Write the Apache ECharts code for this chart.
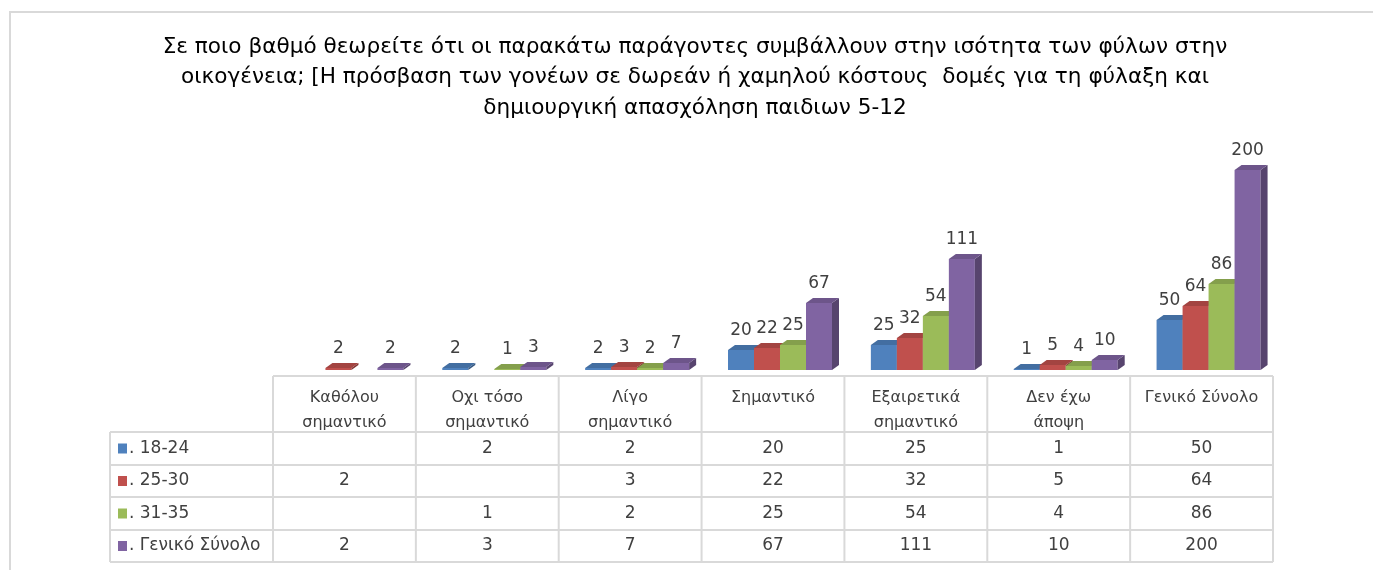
<!DOCTYPE html>
<html>
<head>
<meta charset="utf-8">
<script src="https://cdn.jsdelivr.net/npm/echarts@6/dist/echarts.min.js"></script>
<style>
html, body { margin: 0; padding: 0; background: #fff; }
#chart { width: 1373px; height: 570px; }
</style>
</head>
<body>
<div id="chart"></div>
<script>
var titleText = 'Σε ποιο βαθμό θεωρείτε ότι οι παρακάτω παράγοντες συμβάλλουν στην ισότητα των φύλων στην\n' +
    'οικογένεια; [Η πρόσβαση των γονέων σε δωρεάν ή χαμηλού κόστους  δομές για τη φύλαξη και\n' +
    'δημιουργική απασχόληση παιδιων 5-12';

var categories = ['Καθόλου\nσημαντικό', 'Οχι τόσο\nσημαντικό', 'Λίγο\nσημαντικό', 'Σημαντικό',
    'Εξαιρετικά\nσημαντικό', 'Δεν έχω\nάποψη', 'Γενικό Σύνολο'];
var seriesNames = ['. 18-24', '. 25-30', '. 31-35', '. Γενικό Σύνολο'];
var age1824 = [null, 2, 2, 20, 25, 1, 50];
var age2530 = [2, null, 3, 22, 32, 5, 64];
var age3135 = [null, 1, 2, 25, 54, 4, 86];
var total = [2, 3, 7, 67, 111, 10, 200];
var allValues = [age1824, age2530, age3135, total];

var colors = ['#4F81BD', '#C0504D', '#9BBB59', '#8064A2'];

var BAR_W = 26, SHIFT = 7, DX = 7, DY = 5;
var GRID_LEFT = 273, GRID_RIGHT = 100, GRID_TOP = 170, GRID_BOTTOM = 200;
var LINE = '#d9d9d9';
var TXT = '#404040';
var FONT = 'DejaVu Sans';

function shade(hex, k) {
    var n = parseInt(hex.slice(1), 16);
    var r = Math.round(((n >> 16) & 255) * k);
    var g = Math.round(((n >> 8) & 255) * k);
    var b = Math.round((n & 255) * k);
    return 'rgb(' + r + ',' + g + ',' + b + ')';
}

function render3d(si) {
    return function (params, api) {
        var v = api.value(1);
        if (v == null || isNaN(v)) return null;
        var base = api.coord([api.value(0), 0]);
        var top = api.coord([api.value(0), v]);
        var x0 = base[0] + SHIFT + (si - 1.5) * BAR_W - BAR_W / 2;
        var x1 = x0 + BAR_W;
        var yb = base[1], yt = top[1];
        var c = colors[si];
        return {
            type: 'group',
            children: [
                { type: 'rect', shape: { x: x0, y: yt, width: BAR_W, height: yb - yt },
                  style: { fill: c } },
                { type: 'polygon', shape: { points: [[x1, yt], [x1 + DX, yt - DY], [x1 + DX, yb - DY], [x1, yb]] },
                  style: { fill: shade(c, 0.68) } },
                { type: 'polygon', shape: { points: [[x0, yt], [x0 + DX, yt - DY], [x1 + DX, yt - DY], [x1, yt]] },
                  style: { fill: shade(c, 0.85) } },
                { type: 'text', x: (x0 + x1) / 2, y: yt - 11,
                  style: { text: String(v), fill: TXT, font: '17px "' + FONT + '"', align: 'center', verticalAlign: 'bottom' } }
            ]
        };
    };
}

var series = allValues.map(function (vals, si) {
    var data = [];
    vals.forEach(function (v, i) { if (v != null) data.push([i, v]); });
    return {
        type: 'custom',
        name: seriesNames[si],
        renderItem: render3d(si),
        encode: { x: 0, y: 1 },
        data: data
    };
});

var chart = echarts.init(document.getElementById('chart'));
chart.setOption({
    backgroundColor: '#fff',
    animation: false,
    grid: { left: GRID_LEFT, right: GRID_RIGHT, top: GRID_TOP, bottom: GRID_BOTTOM },
    xAxis: {
        type: 'category',
        data: categories,
        axisLine: { show: false },
        axisTick: { show: false },
        axisLabel: { interval: 0, margin: 15, color: TXT, fontFamily: FONT, fontSize: 16, lineHeight: 25 }
    },
    yAxis: { type: 'value', min: 0, max: 200, show: false },
    series: series
});

// title, frame and the data table under the bars
var colW = 1000 / categories.length;
var rowLines = [376, 432, 465, 497, 530, 562];
var g = [];
g.push({ type: 'rect', shape: { x: 10, y: 12, width: 1400, height: 600 }, style: { fill: null, stroke: LINE, lineWidth: 2 }, silent: true });
g.push({ type: 'text', x: 695, y: 32, style: { text: titleText, fill: '#000', font: '21.6px "' + FONT + '"', lineHeight: 30.5, align: 'center', verticalAlign: 'top' } });
g.push({ type: 'line', shape: { x1: GRID_LEFT, y1: rowLines[0], x2: GRID_LEFT + 1000, y2: rowLines[0] }, style: { stroke: LINE, lineWidth: 2 } });
for (var r = 1; r < rowLines.length; r++) {
    g.push({ type: 'line', shape: { x1: 110, y1: rowLines[r], x2: GRID_LEFT + 1000, y2: rowLines[r] }, style: { stroke: LINE, lineWidth: 2 } });
}
g.push({ type: 'line', shape: { x1: 110, y1: rowLines[1], x2: 110, y2: rowLines[5] }, style: { stroke: LINE, lineWidth: 2 } });
for (var c = 0; c <= categories.length; c++) {
    var xx = GRID_LEFT + c * colW;
    g.push({ type: 'line', shape: { x1: xx, y1: rowLines[0], x2: xx, y2: rowLines[5] }, style: { stroke: LINE, lineWidth: 2 } });
}
allValues.forEach(function (vals, si) {
    var cy = (rowLines[si + 1] + rowLines[si + 2]) / 2;
    g.push({ type: 'rect', shape: { x: 118, y: cy - 5, width: 9, height: 10 }, style: { fill: colors[si] } });
    g.push({ type: 'text', x: 129, y: cy, style: { text: seriesNames[si], fill: TXT, font: '17px "' + FONT + '"', verticalAlign: 'middle' } });
    vals.forEach(function (v, i) {
        if (v == null) return;
        var cx = chart.convertToPixel({ xAxisIndex: 0 }, i);
        g.push({ type: 'text', x: cx, y: cy, style: { text: String(v), fill: TXT, font: '17px "' + FONT + '"', align: 'center', verticalAlign: 'middle' } });
    });
});
chart.setOption({ graphic: g });
</script>
</body>
</html>
